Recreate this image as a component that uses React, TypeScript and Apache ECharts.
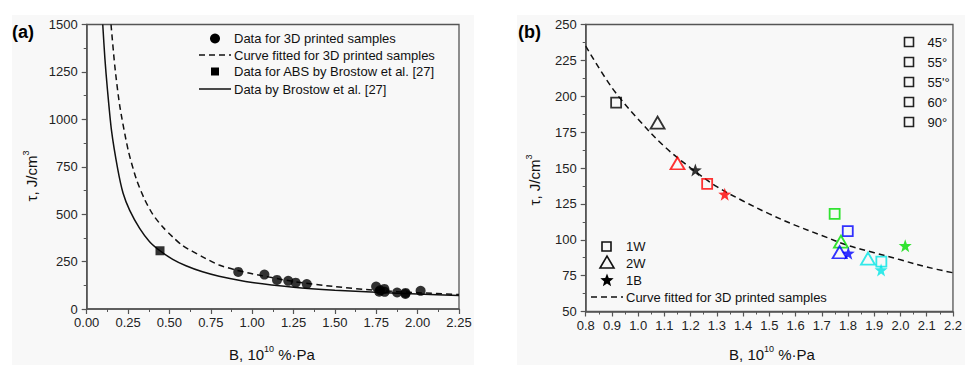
import React, { useEffect, useRef } from 'react';
import * as echarts from 'echarts';

// ---------- Data ----------
// Panel (b): 3D printed samples by pattern (shape) and raster angle (colour)
const angleLabels = ['45°', '55°', "55'°", '60°', '90°'];
const angleColors = ['#000000', '#ff0000', '#00dd00', '#0000ff', '#00e5e5'];

const squareB = [0.916, 1.263, 1.749, 1.799, 1.927]; // 1W
const squareTau = [195.5, 138.9, 118, 106, 84.8];
const triangleB = [1.074, 1.15, 1.773, 1.768, 1.876]; // 2W
const triangleTau = [181.6, 153.3, 98.7, 91.3, 86.9];
const starB = [1.218, 1.33, 2.018, 1.801, 1.926]; // 1B
const starTau = [148.6, 131.7, 95.9, 90.6, 79];

// Fitted curve for 3D printed samples, panel (b)
const fitBX = [0.8, 0.9, 1.0, 1.1, 1.2, 1.3, 1.4, 1.5, 1.6, 1.7, 1.8, 1.9, 2.0, 2.1, 2.2];
const fitBY = [235, 206, 184, 165, 150, 137, 127, 118, 110, 103, 96, 91, 86, 81, 77];

// Panel (a)
const absB = [0.443];
const absTau = [307];
const fitAX = [0.147, 0.17, 0.2, 0.25, 0.3, 0.35, 0.4, 0.46, 0.52, 0.58, 0.7, 0.8, 0.9, 1.0, 1.25, 1.5, 1.75, 2.0, 2.25];
const fitAY = [1500, 1280, 1070, 840, 685, 578, 498, 432, 380, 334, 275, 232, 206, 186, 145, 118, 98, 86, 76];
const brostowX = [0.097, 0.11, 0.125, 0.15, 0.187, 0.22, 0.26, 0.32, 0.38, 0.443, 0.52, 0.6, 0.7, 0.8, 1.0, 1.25, 1.5, 1.75, 2.0, 2.25];
const brostowY = [1500, 1320, 1160, 940, 740, 610, 520, 425, 355, 307, 262, 228, 196, 173, 140, 115, 99, 88, 79, 71];

const legendA = [
  'Data for 3D printed samples',
  'Curve fitted for 3D printed samples',
  'Data for ABS by Brostow et al. [27]',
  'Data by Brostow et al. [27]',
];
const legendBShapes = ['1W', '2W', '1B'];
const legendBCurve = 'Curve fitted for 3D printed samples';

// ---------- Styling ----------
const FONT = '"Liberation Sans", Arial, Helvetica, sans-serif';
const AXIS = '#555555';
const STAR = 'path://M50 0 L61.76 33.82 L97.55 34.55 L69.02 56.18 L79.39 90.45 L50 70 L20.61 90.45 L30.98 56.18 L2.45 34.55 L38.24 33.82 Z';

function starPoints(cx: number, cy: number, ro: number, ri: number) {
  const pts: number[][] = [];
  for (let k = 0; k < 10; k++) {
    const r = k % 2 === 0 ? ro : ri;
    const a = -Math.PI / 2 + (k * Math.PI) / 5;
    pts.push([cx + r * Math.cos(a), cy + r * Math.sin(a)]);
  }
  return pts;
}

function makeXAxis(gridIndex: number, min: number, max: number, interval: number, digits: number) {
  return {
    type: 'value',
    gridIndex,
    min,
    max,
    interval,
    axisLine: { show: true, onZero: false, lineStyle: { color: AXIS, width: 1.5 } },
    axisTick: { show: true, length: 5, lineStyle: { color: AXIS, width: 1.2 } },
    minorTick: { show: true, splitNumber: 2, length: 3, lineStyle: { color: AXIS, width: 1 } },
    splitLine: { show: false },
    minorSplitLine: { show: false },
    axisLabel: {
      color: '#222',
      fontSize: 13,
      fontFamily: FONT,
      margin: 7,
      showMinLabel: true,
      showMaxLabel: true,
      formatter: (v: number) => v.toFixed(digits),
    },
  };
}

function makeYAxis(gridIndex: number, min: number, max: number, interval: number) {
  return {
    type: 'value',
    gridIndex,
    min,
    max,
    interval,
    axisLine: { show: true, onZero: false, lineStyle: { color: AXIS, width: 1.5 } },
    axisTick: { show: true, length: 5, lineStyle: { color: AXIS, width: 1.2 } },
    minorTick: { show: true, splitNumber: 2, length: 3, lineStyle: { color: AXIS, width: 1 } },
    splitLine: { show: false },
    minorSplitLine: { show: false },
    axisLabel: { color: '#222', fontSize: 13, fontFamily: FONT, margin: 9, formatter: (v: number) => String(v) },
  };
}

const textStyle = (x: number, y: number, text: string, size = 13) => ({
  type: 'text',
  x,
  y,
  style: { text, fill: '#111', font: `${size}px ${FONT}`, textAlign: 'left', textVerticalAlign: 'middle' },
});

const titleRich = {
  a: { fontSize: 15, fontFamily: FONT, fill: '#111', color: '#111', lineHeight: 18, verticalAlign: 'bottom' },
  s: { fontSize: 9, fontFamily: FONT, fill: '#111', color: '#111', lineHeight: 18, verticalAlign: 'top' },
};

function buildOption() {
  const allB = [...squareB, ...triangleB, ...starB];
  const allTau = [...squareTau, ...triangleTau, ...starTau];
  const circles = allB.map((b, i) => [b, allTau[i]]);

  const graphic: any[] = [
    // panel backgrounds
    { type: 'rect', z: -10, shape: { x: 12, y: 15, width: 462, height: 350 }, style: { fill: '#f8f8f8' } },
    { type: 'rect', z: -10, shape: { x: 517, y: 15, width: 448, height: 350 }, style: { fill: '#f8f8f8' } },
    // panel labels
    { type: 'text', x: 12, y: 32, style: { text: '(a)', font: `bold 18px ${FONT}`, fill: '#000', textVerticalAlign: 'middle' } },
    { type: 'text', x: 518, y: 32, style: { text: '(b)', font: `bold 18px ${FONT}`, fill: '#000', textVerticalAlign: 'middle' } },
    // axis titles
    { type: 'text', x: 30, y: 176, rotation: Math.PI / 2, style: { text: '{a|τ, J/cm}{s|3}', rich: titleRich, textAlign: 'center', textVerticalAlign: 'middle' } },
    { type: 'text', x: 533, y: 180, rotation: Math.PI / 2, style: { text: '{a|τ, J/cm}{s|3}', rich: titleRich, textAlign: 'center', textVerticalAlign: 'middle' } },
    { type: 'text', x: 272, y: 353, style: { text: '{a|B, 10}{s|10}{a| %·Pa}', rich: titleRich, textAlign: 'center', textVerticalAlign: 'middle' } },
    { type: 'text', x: 772, y: 353, style: { text: '{a|B, 10}{s|10}{a| %·Pa}', rich: titleRich, textAlign: 'center', textVerticalAlign: 'middle' } },

    // legend (a)
    { type: 'circle', shape: { cx: 215, cy: 38.5, r: 5 }, style: { fill: '#000' } },
    { type: 'line', shape: { x1: 199, y1: 55, x2: 231, y2: 55 }, style: { stroke: '#111', lineWidth: 1.5, lineDash: [6, 4] } },
    { type: 'rect', shape: { x: 211, y: 67.5, width: 8, height: 8 }, style: { fill: '#000' } },
    { type: 'line', shape: { x1: 199, y1: 89, x2: 231, y2: 89 }, style: { stroke: '#111', lineWidth: 1.5 } },
    textStyle(234, 38.5, legendA[0]),
    textStyle(234, 55, legendA[1]),
    textStyle(234, 71.5, legendA[2]),
    textStyle(234, 89, legendA[3]),

    // legend (b) angles
    ...angleLabels.flatMap((lab, i) => [
      { type: 'rect', shape: { x: 904.5, y: 37.5 + i * 20, width: 9, height: 9 }, style: { fill: 'none', stroke: '#222', lineWidth: 1.6 } },
      textStyle(927.5, 42 + i * 20, lab),
    ]),

    // legend (b) shapes
    { type: 'rect', shape: { x: 602, y: 242, width: 9, height: 9 }, style: { fill: 'none', stroke: '#111', lineWidth: 1.6 } },
    { type: 'polygon', shape: { points: [[600, 268], [614, 268], [607, 256]] }, style: { fill: 'none', stroke: '#111', lineWidth: 1.6 } },
    { type: 'polygon', shape: { points: starPoints(607, 280.5, 7, 3) }, style: { fill: '#000' } },
    { type: 'line', shape: { x1: 591, y1: 297, x2: 623, y2: 297 }, style: { stroke: '#111', lineWidth: 1.5, lineDash: [6, 4] } },
    textStyle(626, 246.5, legendBShapes[0]),
    textStyle(626, 263, legendBShapes[1]),
    textStyle(626, 280, legendBShapes[2]),
    textStyle(626, 297, legendBCurve),
  ];

  return {
    animation: false,
    backgroundColor: '#ffffff',
    textStyle: { fontFamily: FONT },
    grid: [
      { left: 86.7, top: 24.5, width: 372.3, height: 284.5, show: true, borderColor: AXIS, borderWidth: 1.3, backgroundColor: 'transparent' },
      { left: 585.7, top: 24.5, width: 374.3, height: 287, show: true, borderColor: AXIS, borderWidth: 1.3, backgroundColor: 'transparent' },
    ],
    xAxis: [makeXAxis(0, 0, 2.25, 0.25, 2), makeXAxis(1, 0.8, 2.2, 0.1, 1)],
    yAxis: [makeYAxis(0, 0, 1500, 250), makeYAxis(1, 50, 250, 25)],
    graphic,
    series: [
      // ----- panel (a)
      {
        name: legendA[3],
        type: 'line',
        xAxisIndex: 0,
        yAxisIndex: 0,
        data: brostowX.map((x, i) => [x, brostowY[i]]),
        symbol: 'none',
        smooth: 0.25,
        clip: true,
        lineStyle: { color: '#111', width: 1.5 },
        z: 2,
      },
      {
        name: legendA[1],
        type: 'line',
        xAxisIndex: 0,
        yAxisIndex: 0,
        data: fitAX.map((x, i) => [x, fitAY[i]]),
        symbol: 'none',
        smooth: 0.25,
        clip: true,
        lineStyle: { color: '#111', width: 1.5, type: [6, 4] },
        z: 2,
      },
      {
        name: legendA[0],
        type: 'scatter',
        xAxisIndex: 0,
        yAxisIndex: 0,
        data: circles,
        symbol: 'circle',
        symbolSize: 10,
        itemStyle: { color: '#000' },
        z: 3,
      },
      {
        name: legendA[2],
        type: 'scatter',
        xAxisIndex: 0,
        yAxisIndex: 0,
        data: absB.map((x, i) => [x, absTau[i]]),
        symbol: 'rect',
        symbolSize: 9,
        itemStyle: { color: '#000' },
        z: 3,
      },
      // ----- panel (b)
      {
        name: legendBCurve,
        type: 'line',
        xAxisIndex: 1,
        yAxisIndex: 1,
        data: fitBX.map((x, i) => [x, fitBY[i]]),
        symbol: 'none',
        smooth: 0.35,
        clip: true,
        lineStyle: { color: '#111', width: 1.5, type: [6, 4] },
        z: 2,
      },
      {
        name: '1W',
        type: 'scatter',
        xAxisIndex: 1,
        yAxisIndex: 1,
        symbol: 'rect',
        symbolSize: 10,
        data: squareB.map((x, i) => ({ value: [x, squareTau[i]], itemStyle: { borderColor: angleColors[i] } })),
        itemStyle: { color: 'rgba(0,0,0,0)', borderWidth: 1.8 },
        z: 3,
      },
      {
        name: '2W',
        type: 'scatter',
        xAxisIndex: 1,
        yAxisIndex: 1,
        symbol: 'triangle',
        symbolSize: [14, 12],
        data: triangleB.map((x, i) => ({ value: [x, triangleTau[i]], itemStyle: { borderColor: angleColors[i] } })),
        itemStyle: { color: 'rgba(0,0,0,0)', borderWidth: 1.8 },
        z: 3,
      },
      {
        name: '1B',
        type: 'scatter',
        xAxisIndex: 1,
        yAxisIndex: 1,
        symbol: STAR,
        symbolSize: 13,
        data: starB.map((x, i) => ({ value: [x, starTau[i]], itemStyle: { color: angleColors[i] } })),
        z: 3,
      },
    ],
  };
}

export default function App() {
  const ref = useRef<HTMLDivElement>(null);
  useEffect(() => {
    document.body.style.margin = '0';
    if (!ref.current) return;
    const chart = echarts.init(ref.current, null, { renderer: 'svg' });
    chart.setOption(buildOption() as any);
    return () => chart.dispose();
  }, []);
  return <div ref={ref} style={{ width: 965, height: 365 }} />;
}
